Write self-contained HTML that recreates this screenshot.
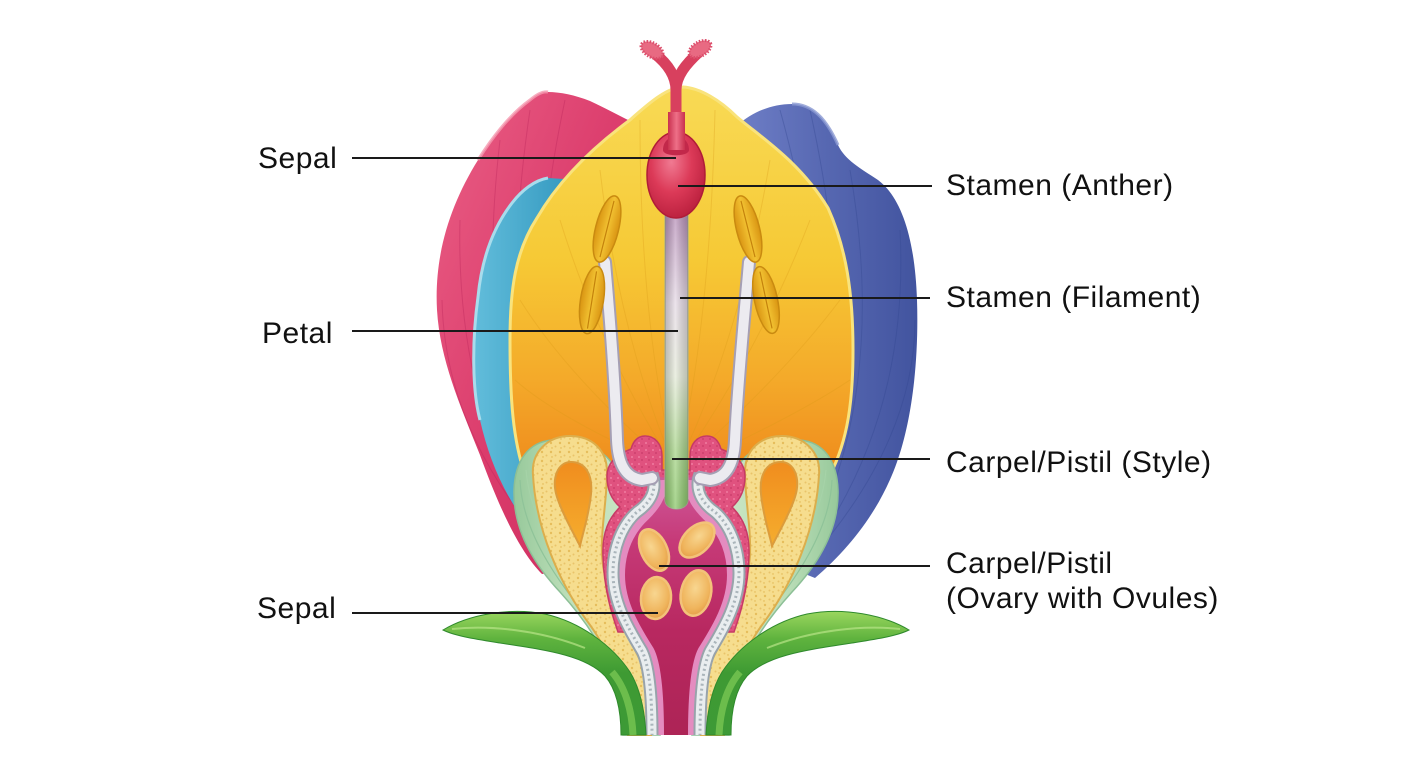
<!DOCTYPE html>
<html><head><meta charset="utf-8"><style>
html,body{margin:0;padding:0;background:#fff;}
svg{display:block;}
text{font-family:"Liberation Sans",Arial,sans-serif;font-size:30px;fill:#111;letter-spacing:0.5px;}
</style></head><body>
<svg width="1408" height="768" viewBox="0 0 1408 768" xmlns="http://www.w3.org/2000/svg">
<defs>
 <linearGradient id="gPink" x1="0" y1="0" x2="1" y2="1">
  <stop offset="0" stop-color="#ea5f85"/><stop offset="0.5" stop-color="#db3c6c"/><stop offset="1" stop-color="#c92a5c"/>
 </linearGradient>
 <linearGradient id="gBlue" x1="0" y1="0" x2="1" y2="0">
  <stop offset="0" stop-color="#6e7ec6"/><stop offset="0.5" stop-color="#5667b1"/><stop offset="1" stop-color="#42549f"/>
 </linearGradient>
 <linearGradient id="gCyan" x1="0" y1="0" x2="1" y2="0">
  <stop offset="0" stop-color="#62bddb"/><stop offset="1" stop-color="#2f95bd"/>
 </linearGradient>
 <linearGradient id="gYellow" x1="0" y1="0" x2="0" y2="1">
  <stop offset="0" stop-color="#f8da55"/><stop offset="0.45" stop-color="#f6c935"/><stop offset="0.75" stop-color="#f4aa2a"/><stop offset="1" stop-color="#ef8a1c"/>
 </linearGradient>
 <linearGradient id="gHole" x1="0" y1="0" x2="0" y2="1">
  <stop offset="0" stop-color="#f08d1e"/><stop offset="1" stop-color="#f5ad2e"/>
 </linearGradient>
 <linearGradient id="gSepal" x1="0" y1="0" x2="1" y2="0">
  <stop offset="0" stop-color="#97c99b"/><stop offset="0.4" stop-color="#bfe0bb"/><stop offset="1" stop-color="#cde8c8"/>
 </linearGradient>
 <linearGradient id="gTube" x1="0" y1="0" x2="0" y2="1">
  <stop offset="0" stop-color="#b992ba"/><stop offset="0.3" stop-color="#e6dbe6"/><stop offset="0.55" stop-color="#e4ead8"/><stop offset="0.8" stop-color="#a9d58b"/><stop offset="1" stop-color="#8cc86c"/>
 </linearGradient>
 <linearGradient id="gTubeH" x1="0" y1="0" x2="1" y2="0">
  <stop offset="0" stop-color="#000" stop-opacity="0.18"/><stop offset="0.45" stop-color="#fff" stop-opacity="0.25"/><stop offset="1" stop-color="#000" stop-opacity="0.18"/>
 </linearGradient>
 <radialGradient id="gOval" cx="0.42" cy="0.35" r="0.7">
  <stop offset="0" stop-color="#f07a92"/><stop offset="0.5" stop-color="#dc3a58"/><stop offset="1" stop-color="#b81e3c"/>
 </radialGradient>
 <linearGradient id="gStyleTop" x1="0" y1="0" x2="1" y2="0">
  <stop offset="0" stop-color="#c9304e"/><stop offset="0.5" stop-color="#ee7088"/><stop offset="1" stop-color="#c9304e"/>
 </linearGradient>
 <linearGradient id="gOvary" x1="0" y1="0" x2="0" y2="1">
  <stop offset="0" stop-color="#cf5a9c"/><stop offset="0.25" stop-color="#c63a78"/><stop offset="0.6" stop-color="#b82860"/><stop offset="1" stop-color="#ad2456"/>
 </linearGradient>
 <radialGradient id="gOvule" cx="0.45" cy="0.4" r="0.65">
  <stop offset="0" stop-color="#f8d690"/><stop offset="0.7" stop-color="#efb45c"/><stop offset="1" stop-color="#e39a45"/>
 </radialGradient>
 <linearGradient id="gLeaf" x1="0" y1="0" x2="0" y2="1">
  <stop offset="0" stop-color="#9ad65e"/><stop offset="0.22" stop-color="#5fb33e"/><stop offset="0.5" stop-color="#3e9a33"/><stop offset="1" stop-color="#3d9a36"/>
 </linearGradient>
 <linearGradient id="gAnther" x1="0" y1="0" x2="1" y2="0">
  <stop offset="0" stop-color="#d99412"/><stop offset="0.5" stop-color="#f2c232"/><stop offset="1" stop-color="#d99412"/>
 </linearGradient>
 <pattern id="spk" width="9" height="9" patternUnits="userSpaceOnUse">
  <rect width="9" height="9" fill="#f6dd8e"/>
  <circle cx="2" cy="2" r="1.2" fill="#e6bd5c"/><circle cx="6.5" cy="5.5" r="1" fill="#e9c36a"/><circle cx="3" cy="7" r="0.7" fill="#e0b450"/>
 </pattern>
 <pattern id="pspk" width="7" height="7" patternUnits="userSpaceOnUse">
  <rect width="7" height="7" fill="#e0527f"/>
  <circle cx="2" cy="2" r="1" fill="#f07ba0"/><circle cx="5" cy="5" r="0.9" fill="#c93a68"/>
 </pattern>
 <clipPath id="cPink"><path d="M530,100 C537,94 543,91 548,92 C560,92 575,95 590,101 C605,108 618,115 632,122 L640,300 L600,565 L542,574 C520,552 500,510 480,455 C460,405 440,360 437,310 C434,255 450,205 478,160 C495,133 512,113 530,100 Z"/></clipPath>
 <clipPath id="cBlue"><path d="M738,125 C752,112 772,104 792,104 C812,104 826,118 838,145 C845,160 860,168 878,180 C902,198 915,240 917,300 C919,360 912,420 897,462 C880,510 850,548 815,578 L770,560 L740,300 Z"/></clipPath>
 <clipPath id="cYel"><path d="M683,87 C700,88 720,100 737,117 C762,138 800,162 828,208 C846,248 853,292 853,350 C853,400 848,440 830,475 L525,475 C513,440 510,400 510,340 C510,290 515,252 537,218 C562,175 600,142 630,120 C650,102 668,87 683,87 Z"/></clipPath>
</defs>

<rect width="1408" height="768" fill="#fff"/>

<!-- pink back petal -->
<path d="M530,100 C537,94 543,91 548,92 C560,92 575,95 590,101 C605,108 618,115 632,122 L640,300 L600,565 L542,574 C520,552 500,510 480,455 C460,405 440,360 437,310 C434,255 450,205 478,160 C495,133 512,113 530,100 Z" fill="url(#gPink)"/>
<g clip-path="url(#cPink)" fill="none" stroke="#b8245a" stroke-width="1" opacity="0.35">
 <path d="M560,560 Q470,400 500,140"/><path d="M565,560 Q490,380 530,110"/><path d="M555,565 Q455,420 460,220"/><path d="M570,560 Q510,360 565,100"/><path d="M560,560 Q445,440 442,300"/>
</g>
<path d="M478,160 C495,133 512,113 530,100 C537,94 543,91 548,92" fill="none" stroke="#f59ab0" stroke-width="3" opacity="0.8"/>

<!-- blue back petal -->
<path d="M738,125 C752,112 772,104 792,104 C812,104 826,118 838,145 C845,160 860,168 878,180 C902,198 915,240 917,300 C919,360 912,420 897,462 C880,510 850,548 815,578 L770,560 L740,300 Z" fill="url(#gBlue)"/>
<g clip-path="url(#cBlue)" fill="none" stroke="#33478f" stroke-width="1" opacity="0.35">
 <path d="M800,560 Q890,400 850,170"/><path d="M795,560 Q870,380 810,110"/><path d="M805,560 Q910,420 900,230"/><path d="M790,560 Q850,360 780,110"/><path d="M810,560 Q915,440 915,320"/>
</g>
<path d="M792,104 C812,104 826,118 838,145" fill="none" stroke="#8a98d2" stroke-width="3" opacity="0.8"/>

<!-- cyan petal -->
<path d="M548,178 C535,180 522,190 512,203 C495,225 482,255 478,297 C472,340 472,390 480,420 C488,455 500,485 520,515 L580,520 L580,180 Z" fill="url(#gCyan)"/>
<path d="M548,178 C535,180 522,190 512,203 C495,225 482,255 478,297 C472,340 472,390 480,420" fill="none" stroke="#a8dcec" stroke-width="3"/>

<!-- yellow center petal -->
<path d="M683,87 C700,88 720,100 737,117 C762,138 800,162 828,208 C846,248 853,292 853,350 C853,400 848,440 830,475 L525,475 C513,440 510,400 510,340 C510,290 515,252 537,218 C562,175 600,142 630,120 C650,102 668,87 683,87 Z" fill="url(#gYellow)" stroke="#f9e37c" stroke-width="3"/>
<g clip-path="url(#cYel)" fill="none" stroke="#d99a18" stroke-width="1" opacity="0.3">
 <path d="M676,470 Q600,350 560,220"/><path d="M676,470 Q620,340 600,170"/><path d="M676,470 Q640,330 640,120"/><path d="M676,470 Q710,330 715,110"/><path d="M676,470 Q740,340 770,160"/><path d="M676,470 Q760,350 810,220"/><path d="M676,470 Q780,380 840,300"/><path d="M676,470 Q570,380 520,300"/><path d="M676,470 Q560,420 515,380"/><path d="M676,470 Q790,420 850,380"/>
</g>

<!-- lower left group -->
<g id="L">
 <path d="M552,440 C529,442 515,460 514,490 C513,526 530,560 560,592 C590,625 612,660 620,700 L623,735 L660,735 L615,470 C608,450 580,438 552,440 Z" fill="url(#gSepal)" stroke="#8cbf96" stroke-width="1.5"/>
 <path d="M520,480 C522,530 555,580 598,630" fill="none" stroke="#8fc399" stroke-width="1.2"/>
 <path d="M526,470 C530,520 562,570 605,625" fill="none" stroke="#a6d3a8" stroke-width="1"/>
 <path d="M533,475 C531,452 548,436 570,436 C592,436 607,450 607,472 C607,500 601,525 602,555 C604,590 620,620 640,660 C648,690 650,715 651,735 L628,735 C626,700 615,660 590,625 C560,585 536,530 533,475 Z" fill="url(#spk)" stroke="#dcae4c" stroke-width="2"/>
 <path d="M571,462 C585,462 593,474 591,494 C589,515 583,532 580,546 C573,532 563,515 557,497 C551,478 558,462 571,462 Z" fill="url(#gHole)" stroke="#dc9c3c" stroke-width="2"/>
 <path d="M676,470 L662,470 L662,456 C662,444 655,436 645,436 C637,436 633,442 631,449 C618,454 607,462 607,476 C607,490 612,500 620,507 C609,518 602,532 603,556 C604,590 612,615 618,632 L676,632 Z" fill="url(#pspk)" stroke="#c63a66" stroke-width="1.5"/>
</g>
<use href="#L" transform="matrix(-1 0 0 1 1352 0)"/>

<!-- ovary interior -->
<path d="M658,476 C670,480 682,480 694,476 C700,495 712,508 722,518 C735,535 742,555 741,575 C740,605 722,630 708,652 C700,668 698,700 698,735 L654,735 C654,700 652,668 644,652 C630,630 612,605 611,575 C610,555 617,535 630,518 C640,508 652,495 658,476 Z" fill="url(#gOvary)"/>

<g id="W">
 <path d="M663,480 C664,496 655,508 642,520 C628,535 621,553 621,575 C621,603 636,628 650,650 C658,665 660,700 660,735" fill="none" stroke="#e48cc0" stroke-width="8"/>
 <path d="M652,474 C658,490 650,503 637,512 C622,525 613,548 613,573 C613,602 628,628 642,651 C650,667 652,700 652,735" fill="none" stroke="#98a3ab" stroke-width="13"/>
 <path d="M652,474 C658,490 650,503 637,512 C622,525 613,548 613,573 C613,602 628,628 642,651 C650,667 652,700 652,735" fill="none" stroke="#e9edef" stroke-width="9"/>
 <path d="M652,474 C658,490 650,503 637,512 C622,525 613,548 613,573 C613,602 628,628 642,651 C650,667 652,700 652,735" fill="none" stroke="#aab5bb" stroke-width="3" stroke-dasharray="2 3"/>
</g>
<use href="#W" transform="matrix(-1 0 0 1 1352 0)"/>

<!-- style tube -->
<path d="M665,215 L688,215 L688,500 C688,512 665,512 665,500 Z" fill="url(#gTube)" stroke="#a0b090" stroke-width="1"/>
<path d="M665,215 L688,215 L688,500 C688,512 665,512 665,500 Z" fill="url(#gTubeH)"/>

<!-- stigma & style top -->
<g fill="none" stroke-linecap="round">
 <path d="M676,135 L676,90 C676,76 668,64 654,53" stroke="#d8405e" stroke-width="11"/>
 <path d="M676,90 C676,76 686,64 699,52" stroke="#d8405e" stroke-width="11"/>
 <path d="M676,138 L676,92" stroke="url(#gStyleTop)" stroke-width="17"/>
</g>
<ellipse cx="652" cy="50" rx="12" ry="7" transform="rotate(30 652 50)" fill="#e86a82" stroke="#dc4f6c" stroke-width="3" stroke-dasharray="1.5 1.5"/>
<ellipse cx="700" cy="49" rx="12" ry="7" transform="rotate(-30 700 49)" fill="#e86a82" stroke="#dc4f6c" stroke-width="3" stroke-dasharray="1.5 1.5"/>
<ellipse cx="676" cy="175" rx="29" ry="43" fill="url(#gOval)" stroke="#b01c38" stroke-width="1.5"/>
<path d="M663,150 C663,132 689,132 689,150 C689,157 663,157 663,150 Z" fill="#c2284a"/>
<rect x="668" y="112" width="17" height="38" fill="url(#gStyleTop)"/>

<!-- filaments -->
<g fill="none" stroke-linecap="round">
 <path d="M605,262 C610,320 615,380 617,440 C618,465 626,478 642,480 L652,478" stroke="#a59fb4" stroke-width="14"/>
 <path d="M605,262 C610,320 615,380 617,440 C618,465 626,478 642,480 L652,478" stroke="#ecebf0" stroke-width="10"/>
 <path d="M749,262 C744,320 738,380 735,440 C734,465 726,478 710,480 L700,478" stroke="#a59fb4" stroke-width="14"/>
 <path d="M749,262 C744,320 738,380 735,440 C734,465 726,478 710,480 L700,478" stroke="#ecebf0" stroke-width="10"/>
</g>

<!-- anthers -->
<g stroke="#c98a10" stroke-width="1.5" fill="url(#gAnther)">
 <ellipse cx="607" cy="229" rx="11.5" ry="34" transform="rotate(14 607 229)"/>
 <ellipse cx="592" cy="300" rx="11.5" ry="34" transform="rotate(9 592 300)"/>
 <ellipse cx="748" cy="229" rx="11.5" ry="34" transform="rotate(-14 748 229)"/>
 <ellipse cx="766" cy="300" rx="11.5" ry="34" transform="rotate(-12 766 300)"/>
</g>
<g stroke="#c4820c" stroke-width="1.2" fill="none">
 <line x1="607" y1="200" x2="607" y2="258" transform="rotate(14 607 229)"/>
 <line x1="592" y1="271" x2="592" y2="329" transform="rotate(9 592 300)"/>
 <line x1="748" y1="200" x2="748" y2="258" transform="rotate(-14 748 229)"/>
 <line x1="766" y1="271" x2="766" y2="329" transform="rotate(-12 766 300)"/>
</g>

<!-- ovules -->
<g fill="url(#gOvule)" stroke="#f3c27a" stroke-width="2.5">
 <ellipse cx="654" cy="550" rx="13" ry="22" transform="rotate(-25 654 550)"/>
 <ellipse cx="697" cy="540" rx="13" ry="21" transform="rotate(45 697 540)"/>
 <ellipse cx="656" cy="598" rx="15" ry="21" transform="rotate(5 656 598)"/>
 <ellipse cx="696" cy="593" rx="15" ry="23" transform="rotate(12 696 593)"/>
</g>

<!-- leaves / stem -->
<g id="LF">
 <path d="M443,630 C468,615 508,607 545,614 C580,622 612,645 630,672 C641,690 645,715 646,735 L621,735 C621,712 617,690 605,676 C585,655 545,650 500,643 C475,639 455,636 443,630 Z" fill="url(#gLeaf)" stroke="#2f8a2c" stroke-width="1"/>
 <path d="M452,629 C490,625 540,630 585,648" fill="none" stroke="#b8e488" stroke-width="2" opacity="0.7"/>
 <path d="M612,672 C626,688 632,712 633,735" fill="none" stroke="#78c552" stroke-width="7" opacity="0.8"/>
</g>
<use href="#LF" transform="matrix(-1 0 0 1 1352 0)"/>

<!-- connector lines -->
<g stroke="#1a1a1a" stroke-width="2">
 <line x1="352" y1="158" x2="676" y2="158"/>
 <line x1="678" y1="186" x2="932" y2="186"/>
 <line x1="680" y1="298" x2="930" y2="298"/>
 <line x1="352" y1="331" x2="678" y2="331"/>
 <line x1="672" y1="459" x2="930" y2="459"/>
 <line x1="659" y1="566" x2="930" y2="566"/>
 <line x1="352" y1="613" x2="658" y2="613"/>
</g>

<!-- labels -->
<text x="258" y="168">Sepal</text>
<text x="262" y="343">Petal</text>
<text x="257" y="618">Sepal</text>
<text x="946" y="195">Stamen (Anther)</text>
<text x="946" y="307">Stamen (Filament)</text>
<text x="946" y="472">Carpel/Pistil (Style)</text>
<text x="946" y="573">Carpel/Pistil</text>
<text x="946" y="608">(Ovary with Ovules)</text>
</svg>
</body></html>
